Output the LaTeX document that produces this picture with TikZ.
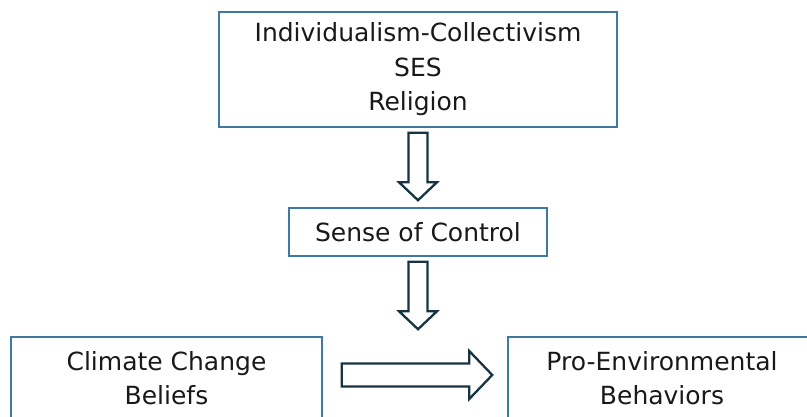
\documentclass[tikz,border=0pt]{standalone}
\usepackage{fontspec}
\setmainfont{DejaVu Sans}
\usetikzlibrary{calc}
\definecolor{boxline}{RGB}{62,122,160}
\definecolor{arrowline}{RGB}{22,52,66}

% block arrow pointing down, from node #1 to node #2
\newcommand{\downblock}[2]{%
  \draw[blockarrow] let \p1=($(#1.south)+(0,5)$), \p2=($(#2.north)+(0,-7)$) in
    (\x1-9.5pt,\y1) -- (\x1-9.5pt,\y2+18pt) -- (\x1-19pt,\y2+18pt) -- (\x1,\y2)
    -- (\x1+19pt,\y2+18pt) -- (\x1+9.5pt,\y2+18pt) -- (\x1+9.5pt,\y1) -- cycle;}
% block arrow pointing right, from node #1 to node #2
\newcommand{\rightblock}[2]{%
  \draw[blockarrow] let \p1=($(#1.east)+(19,-3)$), \p2=($(#2.west)+(-15,-3)$) in
    (\x1,\y1+11.5pt) -- (\x2-23pt,\y1+11.5pt) -- (\x2-23pt,\y1+24pt) -- (\x2,\y1)
    -- (\x2-23pt,\y1-24pt) -- (\x2-23pt,\y1-11.5pt) -- (\x1,\y1-11.5pt) -- cycle;}

\begin{document}
\begin{tikzpicture}[
  x=1pt, y=-1pt,
  box/.style={draw=boxline, line width=1.5pt, align=center, inner sep=0pt,
    text=black!90, font=\fontsize{25}{34.5}\selectfont},
  blockarrow/.style={draw=arrowline, fill=white, line width=2.3pt, line join=miter}
]
  \useasboundingbox (0,0) rectangle (807,417);

  % Antecedents
  \node[box, minimum width=398pt, minimum height=115pt] (antec) at (418,69.5)
    {Individualism-Collectivism\\SES\\Religion};

  % Mediator
  \node[box, minimum width=258pt, minimum height=48pt] (control) at (418,232)
    {Sense of Control};

  % Outcomes
  \node[box, minimum width=311pt, minimum height=82pt] (beliefs) at (166.5,378)
    {Climate Change\\Beliefs};
  \node[box, minimum width=308pt, minimum height=82pt] (behav) at (662,378)
    {Pro-Environmental\\Behaviors};

  % Arrows
  \downblock{antec}{control}
  \downblock{control}{beliefs.north -| control}
  \rightblock{beliefs}{behav}
\end{tikzpicture}
\end{document}
